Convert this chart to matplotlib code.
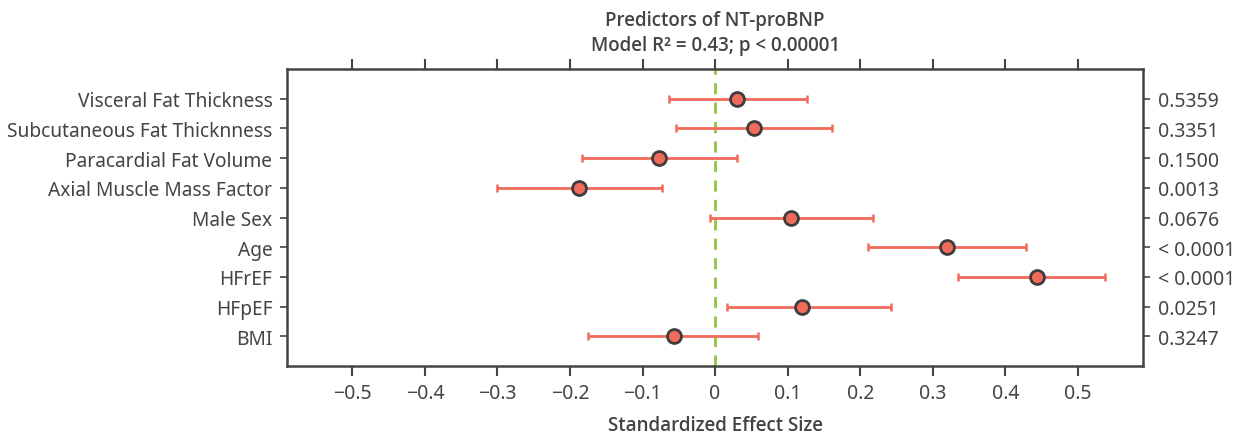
import numpy as np
import matplotlib
matplotlib.use("Agg")
import matplotlib.pyplot as plt

plt.rcParams['font.family'] = ['Noto Sans', 'DejaVu Sans']

# predictors, top to bottom
labels = ["Visceral Fat Thickness", "Subcutaneous Fat Thicknness",
          "Paracardial Fat Volume", "Axial Muscle Mass Factor", "Male Sex",
          "Age", "HFrEF", "HFpEF", "BMI"]
effect = [0.030, 0.053, -0.077, -0.187, 0.104, 0.319, 0.444, 0.120, -0.057]
ci_low = [-0.064, -0.054, -0.184, -0.300, -0.007, 0.211, 0.335, 0.016, -0.175]
ci_high = [0.127, 0.161, 0.030, -0.073, 0.217, 0.428, 0.538, 0.242, 0.059]
pvals = ["0.5359", "0.3351", "0.1500", "0.0013", "0.0676",
         "< 0.0001", "< 0.0001", "0.0251", "0.3247"]
xticks = [-0.5, -0.4, -0.3, -0.2, -0.1, 0, 0.1, 0.2, 0.3, 0.4, 0.5]
xticklabels = ["\u22120.5", "\u22120.4", "\u22120.3", "\u22120.2", "\u22120.1",
               "0", "0.1", "0.2", "0.3", "0.4", "0.5"]

txt = "#444444"
red = "#f26a5a"

fig = plt.figure(figsize=(12.59, 4.39), dpi=100)
ax = fig.add_axes([0.228, 0.164, 0.68, 0.6765])

y = np.arange(len(labels))
eff = np.array(effect)
err = [eff - np.array(ci_low), np.array(ci_high) - eff]

ax.axvline(0, color="#8dc63f", lw=2, ls=(0, (4, 3)), zorder=1)
ax.errorbar(eff, y, xerr=err, fmt="none", ecolor=red, elinewidth=2,
            capsize=3, capthick=1.8, zorder=2)
ax.plot(eff, y, "o", ms=10, mfc=red, mec="#3d3d3d", mew=2, zorder=3)

ax.set_xlim(-0.59, 0.59)
ax.set_ylim(9, -1)
ax.set_xticks(xticks)
ax.set_xticklabels(xticklabels)
ax.set_yticks(y)
ax.set_yticklabels(labels)

for s in ax.spines.values():
    s.set_color(txt)
    s.set_linewidth(1.8)

ax.tick_params(axis="x", top=True, direction="out", length=7, width=1.5,
               color=txt, labelcolor=txt, labelsize=14, pad=5)
ax.tick_params(axis="y", direction="out", length=5, width=1.2,
               color=txt, labelcolor=txt, labelsize=13.8, pad=5.5)

ax2 = ax.twinx()
ax2.set_ylim(ax.get_ylim())
ax2.set_yticks(y)
ax2.set_yticklabels(pvals)
ax2.tick_params(axis="y", direction="out", length=5, width=1.2,
                color=txt, labelcolor=txt, labelsize=14, pad=6)
for s in ax2.spines.values():
    s.set_visible(False)

ax.set_xlabel("Standardized Effect Size", color=txt, fontsize=13.5,
              fontweight="semibold", family=["Open Sans", "Noto Sans"],
              labelpad=9)
ax.set_title("Predictors of NT-proBNP\nModel R\u00b2 = 0.43; p < 0.00001",
             color=txt, fontsize=13.5, fontweight="semibold",
             family=["Open Sans", "Noto Sans"], pad=14, linespacing=1.3)

fig.savefig("out.png", dpi=100)
